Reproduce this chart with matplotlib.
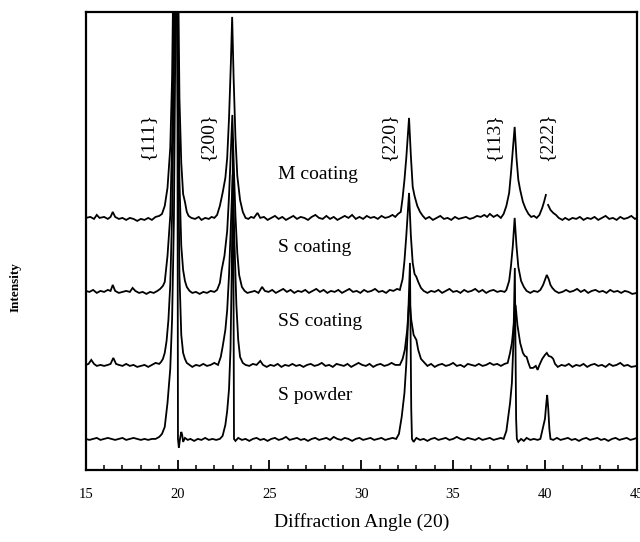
import matplotlib
matplotlib.use("Agg")
import matplotlib.pyplot as plt
import numpy as np
from matplotlib.ticker import MultipleLocator

plt.rcParams["font.family"] = ["Liberation Serif", "DejaVu Serif"]

# XRD scans, (2theta, counts above the scan's own background)
M_COATING = [
    (15.0, 0), (15.25, 1), (15.45, -1), (15.6, 3), (15.75, 0), (16.0, 1), (16.2, -1),
    (16.35, 1), (16.47, 6), (16.6, 1), (16.8, -1), (17.0, 0), (17.2, -2), (17.4, 0),
    (17.6, -1), (17.8, -3), (18.0, -1), (18.2, -2), (18.4, 0), (18.6, -2), (18.8, 1),
    (19.0, 2), (19.15, 4), (19.3, 12), (19.45, 30), (19.6, 70), (19.7, 140), (19.8, 290),
    (19.9, 600), (20.0, 300), (20.1, 120), (20.2, 55), (20.3, 24), (20.4, 16), (20.5, 6),
    (20.6, 2), (20.75, 0), (20.95, -1), (21.15, 1), (21.3, -2), (21.5, 0), (21.7, -1),
    (21.85, 1), (22.0, 0), (22.15, 3), (22.3, 12), (22.45, 25), (22.6, 40), (22.7, 60),
    (22.8, 100), (22.9, 155), (22.97, 201), (23.05, 140), (23.15, 80), (23.25, 42),
    (23.4, 18), (23.55, 6), (23.7, 0), (23.85, -1), (24.0, 1), (24.15, 0), (24.35, 5),
    (24.5, 0), (24.7, 1), (24.9, -2), (25.1, 0), (25.3, 2), (25.5, -1), (25.7, 1),
    (25.9, -2), (26.1, 0), (26.3, 2), (26.5, -1), (26.7, 1), (26.9, 0), (27.1, -2),
    (27.3, 1), (27.5, 3), (27.7, 0), (27.9, -1), (28.1, 2), (28.3, -1), (28.5, 1),
    (28.7, -2), (28.9, 0), (29.1, 2), (29.3, 0), (29.5, 3), (29.7, -1), (29.9, 1),
    (30.1, -1), (30.3, 2), (30.5, 0), (30.7, 1), (30.9, -1), (31.1, 2), (31.3, 0),
    (31.5, 1), (31.7, 3), (31.85, 1), (32.0, 4), (32.15, 6), (32.25, 20), (32.35, 38),
    (32.45, 60), (32.6, 100), (32.7, 62), (32.8, 31), (32.9, 22), (33.05, 12), (33.2, 6),
    (33.35, 2), (33.5, -1), (33.7, 1), (33.9, -2), (34.1, 0), (34.3, 2), (34.5, -1),
    (34.7, 0), (34.9, -2), (35.1, 1), (35.3, -1), (35.5, 0), (35.7, 1), (35.9, -1),
    (36.1, 0), (36.3, 2), (36.5, 1), (36.7, 3), (36.85, 1), (37.0, 4), (37.2, 1),
    (37.4, 3), (37.6, 0), (37.75, 4), (37.9, 12), (38.05, 25), (38.15, 45), (38.25, 68),
    (38.35, 91), (38.45, 60), (38.55, 38), (38.65, 28), (38.8, 16), (38.95, 9), (39.1, 4),
    (39.25, 1), (39.4, 2), (39.55, 0), (39.7, 3), (39.85, 10), (39.95, 16), (40.05, 23),
    (40.1, np.nan), (40.17, 13), (40.3, 8), (40.45, 5), (40.6, 3), (40.75, 0), (40.95, -2),
    (41.1, 0), (41.3, -2), (41.5, 0), (41.7, -1), (41.9, 1), (42.1, -2), (42.3, 0),
    (42.5, -1), (42.7, 1), (42.9, -2), (43.1, 0), (43.3, 2), (43.5, -1), (43.7, 0),
    (43.9, -2), (44.1, 1), (44.3, -1), (44.5, 0), (44.7, 2), (44.9, -1), (45.0, 0),
]

S_COATING = [
    (15.0, 0), (15.2, -1), (15.4, 1), (15.6, -2), (15.8, 0), (16.0, -1), (16.2, 1),
    (16.35, 0), (16.47, 6), (16.6, 0), (16.8, -2), (17.0, -1), (17.2, 0), (17.4, -1),
    (17.55, 3), (17.7, 0), (17.9, -2), (18.1, -1), (18.3, -3), (18.5, -1), (18.7, -2),
    (18.9, 0), (19.05, 2), (19.2, 5), (19.3, 9), (19.45, 35), (19.6, 75), (19.7, 150),
    (19.8, 300), (19.9, 560), (20.0, 290), (20.1, 110), (20.2, 45), (20.3, 21), (20.4, 10),
    (20.5, 4), (20.65, 0), (20.8, -2), (21.0, -1), (21.2, -3), (21.4, -1), (21.6, -2),
    (21.8, 0), (22.0, -1), (22.15, 1), (22.3, 8), (22.4, 21), (22.55, 35), (22.7, 60),
    (22.8, 95), (22.9, 140), (22.98, 176), (23.05, 130), (23.15, 75), (23.25, 38),
    (23.35, 16), (23.5, 4), (23.65, 0), (23.8, -2), (24.0, -1), (24.2, 0), (24.4, -2),
    (24.6, 4), (24.75, 0), (24.95, -1), (25.15, 1), (25.35, -2), (25.55, 0), (25.75, 2),
    (25.95, -1), (26.15, 1), (26.35, -2), (26.55, 0), (26.75, -1), (26.95, 1), (27.15, -2),
    (27.35, 0), (27.55, 2), (27.75, -1), (27.95, 1), (28.15, -2), (28.35, 0), (28.55, -1),
    (28.75, 1), (28.95, -2), (29.15, 0), (29.35, 2), (29.55, -1), (29.75, 0), (29.95, -2),
    (30.15, 1), (30.35, -1), (30.55, 0), (30.75, 2), (30.95, -1), (31.15, 0), (31.35, -2),
    (31.55, 1), (31.75, 0), (31.95, 2), (32.1, 1), (32.25, 12), (32.35, 30), (32.45, 55),
    (32.6, 98), (32.7, 55), (32.8, 28), (32.9, 17), (33.0, 14), (33.1, 9), (33.25, 3),
    (33.4, 0), (33.6, -2), (33.8, 0), (34.0, -1), (34.2, 1), (34.4, -2), (34.6, 0),
    (34.8, 2), (35.0, -1), (35.2, 0), (35.4, -2), (35.6, 1), (35.8, -1), (36.0, 0),
    (36.2, 2), (36.4, -1), (36.6, 1), (36.8, -2), (37.0, 0), (37.2, 1), (37.4, -1),
    (37.6, 0), (37.8, -1), (37.9, 1), (38.05, 10), (38.15, 25), (38.25, 45), (38.35, 73),
    (38.45, 45), (38.55, 24), (38.7, 10), (38.85, 4), (39.0, 0), (39.2, -2), (39.4, 0),
    (39.6, -1), (39.75, 1), (39.9, 6), (40.0, 11), (40.1, 16), (40.2, 12), (40.3, 6),
    (40.4, 3), (40.55, 0), (40.75, -2), (40.95, -1), (41.15, 1), (41.35, -1), (41.55, 0),
    (41.75, 2), (41.95, -1), (42.15, 1), (42.35, -2), (42.55, 0), (42.75, 1), (42.95, -1),
    (43.15, 0), (43.35, -2), (43.55, 1), (43.75, -1), (43.95, 0), (44.15, -2), (44.35, 0),
    (44.55, -1), (44.75, -3), (45.0, -2),
]

SS_COATING = [
    (15.0, 0), (15.15, 1), (15.3, 5), (15.45, 1), (15.6, -1), (15.8, 0), (16.0, -1),
    (16.2, 0), (16.35, 1), (16.5, 7), (16.65, 1), (16.8, 0), (17.0, -1), (17.2, 1),
    (17.4, -1), (17.6, 0), (17.8, -2), (18.0, -1), (18.2, 0), (18.4, -2), (18.6, 0),
    (18.8, 2), (19.0, 1), (19.1, 3), (19.2, 6), (19.3, 12), (19.4, 24), (19.5, 45),
    (19.6, 80), (19.7, 150), (19.8, 290), (19.9, 520), (20.0, 280), (20.1, 90), (20.2, 30),
    (20.3, 12), (20.4, 6), (20.5, 2), (20.65, 0), (20.8, -2), (21.0, 0), (21.2, -1),
    (21.4, 1), (21.6, -1), (21.8, 0), (22.0, 2), (22.2, 0), (22.35, 8), (22.45, 18),
    (22.6, 35), (22.7, 55), (22.8, 90), (22.9, 140), (23.0, 190), (23.1, 120), (23.2, 60),
    (23.3, 25), (23.4, 8), (23.55, 2), (23.7, 0), (23.9, -1), (24.1, 1), (24.3, 0),
    (24.5, 4), (24.65, 0), (24.85, -2), (25.05, 0), (25.25, -1), (25.45, 1), (25.65, -2),
    (25.85, 0), (26.05, -1), (26.25, 1), (26.45, -1), (26.65, 0), (26.85, -2), (27.05, 0),
    (27.25, 1), (27.45, -1), (27.65, 0), (27.85, 2), (28.05, -1), (28.25, 0), (28.45, -2),
    (28.65, 1), (28.85, 0), (29.05, -1), (29.25, 1), (29.45, -2), (29.65, 0), (29.85, 2),
    (30.05, 0), (30.25, -1), (30.45, 1), (30.65, -2), (30.85, 0), (31.05, 1), (31.25, -1),
    (31.45, 0), (31.65, 2), (31.85, 0), (32.1, 0), (32.25, 6), (32.37, 15), (32.5, 35),
    (32.62, 68), (32.72, 45), (32.85, 30), (33.0, 25), (33.1, 15), (33.25, 6), (33.45, 2),
    (33.6, -1), (33.8, 1), (34.0, -2), (34.2, 0), (34.4, 1), (34.6, -1), (34.8, 0),
    (35.0, 2), (35.2, -1), (35.4, 0), (35.6, -2), (35.8, 1), (36.0, 0), (36.2, -1),
    (36.4, 1), (36.6, -1), (36.8, 0), (37.0, 2), (37.2, 0), (37.4, 1), (37.6, -1),
    (37.8, 1), (37.97, 2), (38.1, 12), (38.2, 22), (38.3, 40), (38.4, 60), (38.5, 40),
    (38.65, 22), (38.8, 12), (38.9, 9), (39.0, 8), (39.1, 2), (39.2, -3), (39.35, -3),
    (39.5, -1), (39.6, -5), (39.7, 0), (39.85, 6), (40.0, 10), (40.1, 12), (40.2, 9),
    (40.35, 8), (40.45, 6), (40.55, 1), (40.7, -2), (40.9, 0), (41.1, -1), (41.3, 1),
    (41.5, -2), (41.7, 0), (41.9, -1), (42.1, 1), (42.3, -2), (42.5, 0), (42.7, 1),
    (42.9, -1), (43.1, 0), (43.3, -2), (43.5, 1), (43.7, -1), (43.9, 0), (44.1, 2),
    (44.3, -1), (44.5, 0), (44.7, -2), (45.0, -1),
]

S_POWDER = [
    (15.0, 0), (15.2, -1), (15.4, 0), (15.6, 1), (15.8, -1), (16.0, 0), (16.2, 1),
    (16.4, 0), (16.6, -1), (16.8, 0), (17.0, 1), (17.2, -1), (17.4, 0), (17.6, 1),
    (17.8, 0), (18.0, -1), (18.2, 0), (18.4, -1), (18.6, 0), (18.8, 0), (19.0, 2),
    (19.15, 5), (19.3, 12), (19.45, 36), (19.6, 70), (19.7, 120), (19.8, 220), (19.9, 450),
    (19.97, 600), (20.02, 0), (20.07, -9), (20.13, 0), (20.2, 7), (20.25, 4), (20.3, -3),
    (20.4, 1), (20.55, -1), (20.7, 0), (20.9, -2), (21.1, 0), (21.3, -1), (21.5, 1),
    (21.7, -1), (21.9, 0), (22.1, -1), (22.3, 0), (22.45, 3), (22.6, 14), (22.7, 28),
    (22.8, 50), (22.88, 90), (22.95, 170), (23.02, 300), (23.07, 0), (23.15, -2),
    (23.3, 1), (23.5, -1), (23.7, 0), (23.9, -2), (24.1, 0), (24.3, 1), (24.5, -1),
    (24.7, 0), (24.9, -2), (25.1, 0), (25.3, 1), (25.5, -1), (25.7, 0), (25.9, 2),
    (26.1, -1), (26.3, 0), (26.5, 1), (26.7, -1), (26.9, 0), (27.1, -2), (27.3, 0),
    (27.5, 1), (27.7, -1), (27.9, 0), (28.1, 1), (28.3, -1), (28.5, 2), (28.7, 0),
    (28.9, -1), (29.1, 1), (29.3, 0), (29.5, -2), (29.7, 0), (29.9, 1), (30.1, -1),
    (30.3, 0), (30.5, 1), (30.7, -1), (30.9, 0), (31.1, 1), (31.3, -1), (31.5, 0),
    (31.7, 1), (31.9, 0), (32.05, 5), (32.2, 22), (32.35, 46), (32.45, 75), (32.55, 120),
    (32.65, 176), (32.72, 30), (32.76, 0), (32.85, -3), (33.0, 1), (33.2, -1), (33.4, 0),
    (33.6, -2), (33.8, 0), (34.0, 1), (34.2, -1), (34.4, 0), (34.6, 1), (34.8, -1),
    (35.0, 0), (35.2, 2), (35.4, 0), (35.6, -1), (35.8, 1), (36.0, 0), (36.2, -1),
    (36.4, 1), (36.6, -1), (36.8, 0), (37.0, 1), (37.2, -1), (37.4, 0), (37.6, 1),
    (37.75, 0), (37.9, 8), (38.0, 22), (38.1, 36), (38.2, 56), (38.28, 95), (38.36, 171),
    (38.43, 20), (38.47, 0), (38.55, -3), (38.7, 0), (38.85, -2), (39.0, 1), (39.2, -1),
    (39.4, 0), (39.6, -1), (39.75, 0), (39.9, 12), (40.0, 20), (40.07, 35), (40.12, 44),
    (40.18, 30), (40.24, 10), (40.3, 0), (40.45, -1), (40.65, 1), (40.85, -1), (41.05, 0),
    (41.25, 1), (41.45, -1), (41.65, 0), (41.85, -2), (42.05, 0), (42.25, 1), (42.45, -1),
    (42.65, 0), (42.85, 1), (43.05, -1), (43.25, 0), (43.45, -2), (43.65, 0), (43.85, 1),
    (44.05, -1), (44.25, 0), (44.45, 1), (44.65, -1), (44.85, 0), (45.0, 1),
]

SAMPLES = ["M coating", "S coating", "SS coating", "S powder"]
SCANS = [M_COATING, S_COATING, SS_COATING, S_POWDER]
STACK_OFFSET = [252, 179, 105, 31]

REFLECTIONS = ["{111}", "{200}", "{220}", "{113}", "{222}"]
REFLECTION_POS = [18.4, 21.65, 31.5, 37.2, 40.1]

fig = plt.figure(figsize=(6.4, 5.42), dpi=100)
ax = fig.add_axes([0.134, 0.133, 0.861, 0.845])

for name, scan, off in zip(SAMPLES, SCANS, STACK_OFFSET):
    tt, counts = np.array(scan, dtype=float).T
    ax.plot(tt, counts + off, color="black", lw=1.3, solid_joinstyle="miter")
    ax.text(25.45, off + 43, name, fontsize=14, va="center", ha="left")

for hkl, pos in zip(REFLECTIONS, REFLECTION_POS):
    ax.text(pos, 333, hkl, rotation=90, fontsize=14, ha="center", va="center")

ax.set_xlim(15, 45)
ax.set_ylim(0, 458)
ax.xaxis.set_major_locator(MultipleLocator(5))
ax.xaxis.set_minor_locator(MultipleLocator(1))
ax.tick_params(axis="x", which="major", direction="in", length=7, width=1.3,
               pad=13, labelsize=10.5)
ax.tick_params(axis="x", which="minor", direction="in", length=3.5, width=1.1)
ax.set_yticks([])
for sp in ax.spines.values():
    sp.set_linewidth(1.6)

ax.set_xlabel("Diffraction Angle (20)", fontsize=14, labelpad=9)
fig.text(0.024, 0.47, "Intensity", rotation=90, fontsize=9.5, fontweight="bold",
         ha="center", va="center")

fig.savefig("out.png", dpi=100)
